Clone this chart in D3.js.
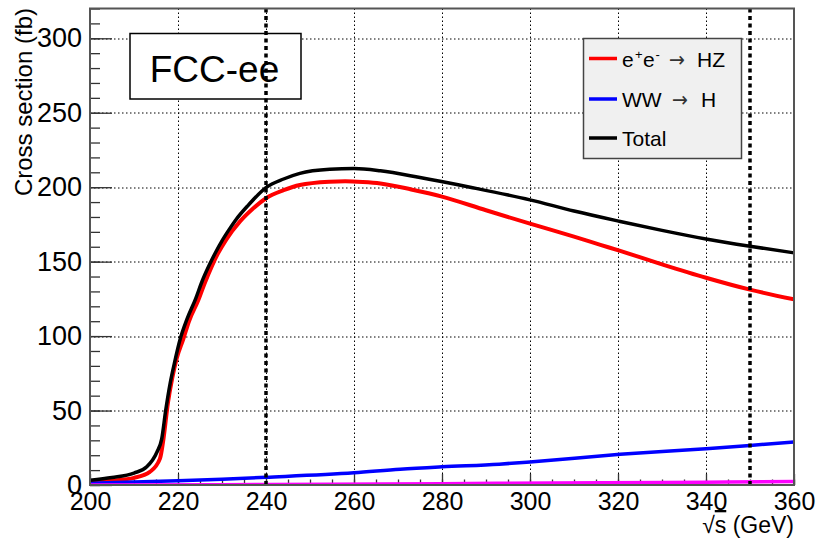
<!DOCTYPE html>
<html>
<head>
<meta charset="utf-8">
<script src="https://cdn.jsdelivr.net/npm/d3@7"></script>
<style>
  body { margin: 0; background: #fff; }
  text { font-family: "Liberation Sans", Arial, Helvetica, sans-serif; }
</style>
</head>
<body>
<svg id="chart"></svg>
<script>
// e+e- -> HZ (red)
const hzEnergy = [200, 205, 210, 213.6, 215.9, 216.7, 217.7, 218.7, 219.7, 221.2, 222.5, 224.6, 226, 227.7, 229, 231, 234.1, 237, 240, 244, 247.7, 254.5, 258, 262, 266, 273, 280, 290, 300, 310, 316, 320.5, 330, 340, 350, 360];
const hzXsec = [2.1, 3.0, 4.8, 8.8, 17.7, 31, 55, 72, 85, 98, 110, 124, 135, 147, 155, 165, 177, 185.5, 192.6, 198, 201.5, 203.7, 204, 203.5, 202.5, 198.5, 193.7, 184.5, 175.5, 166.8, 161.3, 157.2, 148.2, 139.2, 131.2, 124.7];

// WW -> H (blue)
const wwEnergy = [200, 220, 230, 240, 260, 270.5, 280, 293, 300, 320.5, 340, 350, 360];
const wwXsec = [1.2, 2.8, 3.9, 5.2, 8.2, 10.6, 12.2, 14.0, 15.5, 20.6, 24.4, 26.6, 28.9];

// ZZ -> H (magenta, not in legend)
const zzEnergy = [200, 230, 255, 280, 305, 330, 345, 360];
const zzXsec = [0.05, 0.2, 0.5, 0.9, 1.3, 1.7, 2.0, 2.3];

// Total (black)
const totEnergy = [200, 205, 210, 212.9, 215.2, 216.3, 217.2, 218.2, 219.2, 220.5, 222, 224, 225.5, 227, 228.5, 230, 231.5, 233, 236, 240, 244, 247.7, 254.5, 260, 266, 275, 286.4, 300, 310, 320.5, 330, 340, 350, 360];
const totXsec = [3.2, 5.0, 8.0, 12.2, 22, 31, 50, 68, 82, 98, 111, 125, 137, 147, 156, 164, 171, 177.5, 188, 199.7, 205.5, 209.3, 212, 212.5, 211, 206.5, 200, 191.5, 184, 177, 171, 165.2, 160.3, 155.9];

const xMajor = [200, 220, 240, 260, 280, 300, 320, 340, 360];
const yMajor = [0, 50, 100, 150, 200, 250, 300];
const markers = [240, 350];

const W = 816, H = 543;
const margin = { top: 8.5, right: 22, bottom: 58, left: 90 };
const width = W - margin.left - margin.right;
const height = H - margin.top - margin.bottom;

const svg = d3.select('#chart')
  .attr('width', W)
  .attr('height', H);

svg.append('rect').attr('width', W).attr('height', H).attr('fill', '#fff');

const g = svg.append('g')
  .attr('transform', `translate(${margin.left}, ${margin.top})`);

const xScale = d3.scaleLinear().domain([200, 360]).range([0, width]);
const yScale = d3.scaleLinear().domain([0, 320]).range([height, 0]);

const defs = svg.append('defs');
defs.append('clipPath').attr('id', 'plotclip')
  .append('rect').attr('width', width).attr('height', height);

// grid (dotted)
g.selectAll('line.gx')
  .data(xMajor.filter(v => v > 200 && v < 360))
  .enter().append('line')
  .attr('class', 'gx')
  .attr('x1', d => Math.round(xScale(d)) + 0.5)
  .attr('x2', d => Math.round(xScale(d)) + 0.5)
  .attr('y1', 0).attr('y2', height)
  .style('stroke', '#000').style('stroke-width', '1px')
  .style('stroke-dasharray', '1.5 2.5');

g.selectAll('line.gy')
  .data(yMajor.filter(v => v > 0))
  .enter().append('line')
  .attr('class', 'gy')
  .attr('x1', 0).attr('x2', width)
  .attr('y1', d => Math.round(yScale(d)) + 0.5)
  .attr('y2', d => Math.round(yScale(d)) + 0.5)
  .style('stroke', '#000').style('stroke-width', '1px')
  .style('stroke-dasharray', '1.5 2.5');

// axes
const xAxis = d3.axisBottom(xScale).tickValues(xMajor).tickSize(-11).tickSizeOuter(0).tickPadding(7.5);
const xMinor = d3.axisBottom(xScale).ticks(32).tickSize(-5.5).tickSizeOuter(0).tickFormat('');
const yAxis = d3.axisLeft(yScale).tickValues(yMajor).tickSize(-22).tickSizeOuter(0).tickPadding(8).tickFormat(d3.format('d'));
const yMinor = d3.axisLeft(yScale).ticks(32).tickSize(-10).tickSizeOuter(0).tickFormat('');

const gxm = g.append('g').attr('transform', `translate(0, ${height})`).call(xMinor);
const gx = g.append('g').attr('transform', `translate(0, ${height})`).call(xAxis);
const gym = g.append('g').call(yMinor);
const gy = g.append('g').call(yAxis);

[gx, gxm, gy, gym].forEach(a => {
  a.select('.domain').remove();
  a.selectAll('line').attr('stroke', '#333').attr('stroke-width', 1.3);
});
gx.selectAll('text').attr('font-size', 25).attr('fill', '#000')
  .style('font-family', '"Liberation Sans", Arial, sans-serif');
gy.selectAll('text').attr('font-size', 27).attr('fill', '#000')
  .style('font-family', '"Liberation Sans", Arial, sans-serif');

// FCC-ee box
g.append('rect')
  .attr('x', 130 - margin.left).attr('y', 33.5 - margin.top)
  .attr('width', 171).attr('height', 65.5)
  .attr('fill', '#fff').attr('stroke', '#000').attr('stroke-width', 1.5);
g.append('text')
  .attr('x', 214.5 - margin.left).attr('y', 82 - margin.top)
  .attr('text-anchor', 'middle').attr('font-size', 37)
  .text('FCC-ee');

// legend
const lg = svg.append('g');
lg.append('rect')
  .attr('x', 583.5).attr('y', 38.5).attr('width', 158).attr('height', 120)
  .attr('fill', '#f0f0f0').attr('stroke', '#444').attr('stroke-width', 1.5);

const legendItems = [
  { color: '#ff0000', parts: [{ x: 622, t: 'e' }, { x: 635, t: '+', sup: true }, { x: 643, t: 'e' }, { x: 655.5, t: '-', sup: true }, { x: 669, t: '\u2192', arrow: true }, { x: 697, t: 'HZ' }] },
  { color: '#0000ff', parts: [{ x: 622, t: 'WW' }, { x: 672, t: '\u2192', arrow: true }, { x: 701, t: 'H' }] },
  { color: '#000000', parts: [{ x: 622, t: 'Total' }] }
];
const rowY = [58.5, 99, 138];

const legend = lg.selectAll('.legend')
  .data(legendItems)
  .enter().append('g')
  .attr('class', 'legend')
  .attr('transform', (d, i) => `translate(0, ${rowY[i]})`);

legend.append('line')
  .attr('x1', 589).attr('x2', 617)
  .attr('stroke', d => d.color).attr('stroke-width', 3.5);

legend.selectAll('text')
  .data(d => d.parts)
  .enter().append('text')
  .attr('x', p => p.x)
  .attr('y', p => p.sup ? 0 : 8)
  .attr('font-size', p => p.sup ? 13 : 21)
  .attr('fill', p => p.arrow ? '#333' : '#000')
  .attr('textLength', p => p.arrow ? 16 : null)
  .attr('lengthAdjust', p => p.arrow ? 'spacingAndGlyphs' : null)
  .style('font-family', p => p.arrow ? '"DejaVu Sans", sans-serif' : null)
  .text(p => p.t);

// curves
const line = d3.line()
  .x(d => xScale(d[0]))
  .y(d => yScale(d[1]))
  .curve(d3.curveMonotoneX);

const curves = [
  { e: hzEnergy, v: hzXsec, color: '#ff0000', w: 4 },
  { e: wwEnergy, v: wwXsec, color: '#0000ff', w: 3.5 },
  { e: totEnergy, v: totXsec, color: '#000000', w: 3.5 },
  { e: zzEnergy, v: zzXsec, color: '#ff00ff', w: 3.5 }
];

const plot = g.append('g').attr('clip-path', 'url(#plotclip)');
curves.forEach(c => {
  plot.append('path')
    .datum(d3.zip(c.e, c.v))
    .attr('d', line)
    .attr('fill', 'none')
    .attr('stroke', c.color)
    .attr('stroke-width', c.w);
});

// vertical markers
g.selectAll('.marker')
  .data(markers)
  .enter().append('line')
  .attr('x1', d => xScale(d)).attr('x2', d => xScale(d))
  .attr('y1', height).attr('y2', 0)
  .attr('stroke', '#000').attr('stroke-width', 3.5)
  .attr('stroke-dasharray', '4,3.5');

// frame
g.append('rect')
  .attr('width', width).attr('height', height)
  .attr('fill', 'none').attr('stroke', '#555').attr('stroke-width', 2);

// axis titles
svg.append('text')
  .attr('transform', 'translate(32, 8) rotate(-90)')
  .attr('text-anchor', 'end').attr('font-size', 24)
  .text('Cross section (fb)');

const xt = svg.append('text')
  .attr('x', 794).attr('y', 533)
  .attr('text-anchor', 'end').attr('font-size', 23);
xt.append('tspan').text('\u221a');
xt.append('tspan').style('text-decoration', 'overline').text('s');
xt.append('tspan').text(' (GeV)');
</script>
</body>
</html>
